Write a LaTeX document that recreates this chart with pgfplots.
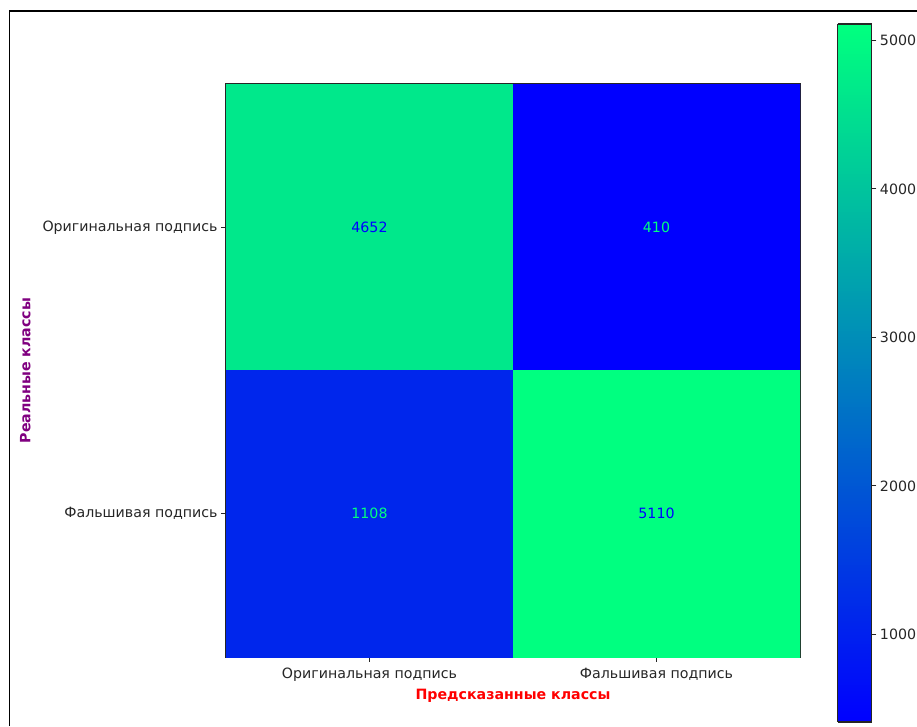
\documentclass[border=0pt]{standalone}
\usepackage{pgfplots}
\pgfplotsset{compat=1.18}
\usepackage{fontspec}
\setmainfont{DejaVu Sans}
\pgfplotsset{
  /pgf/number format/assume math mode=true,
  /pgf/number format/1000 sep={},
  colormap={winter}{rgb=(0,0,1) rgb=(0,1,0.5)},
}
\definecolor{mplpurple}{RGB}{128,0,128}
\definecolor{winterlo}{rgb}{0,0,1}
\definecolor{winterhi}{rgb}{0,1,0.5}
\newcommand{\lblfont}{\fontsize{14.2}{16}\selectfont}

\begin{document}
\begin{tikzpicture}
\useasboundingbox (0pt,0pt) rectangle (917pt,726pt);
% outer frame
\draw[line width=1.8pt,black] (9.5pt,0pt) -- (9.5pt,715pt) -- (917pt,715pt);

\begin{axis}[
  at={(226pt,69pt)}, anchor=south west,
  scale only axis, width=574pt, height=573pt,
  xmin=-0.5, xmax=1.5, ymin=-0.5, ymax=1.5,
  y dir=reverse,
  xtick={0,1}, ytick={0,1},
  xticklabels={Оригинальная подпись, Фальшивая подпись},
  yticklabels={Оригинальная подпись, Фальшивая подпись},
  xtick pos=bottom, ytick pos=left,
  tick align=outside, major tick length=4.9pt,
  tick style={black!85, line width=1.1pt},
  axis line style={black!85, line width=1.1pt},
  ticklabel style={font=\lblfont, text=black!85},
  xticklabel style={yshift=-3pt},
  xlabel={Предсказанные классы},
  ylabel={Реальные классы},
  ylabel shift=5pt,
  xlabel style={font=\lblfont\bfseries, text=red},
  ylabel style={font=\lblfont\bfseries, text=mplpurple},
  colormap name=winter,
  point meta min=410, point meta max=5110,
  colorbar sampled,
  colorbar style={
    samples=240,
    width=34pt, height=698pt,
    at={(parent axis.north east)}, anchor=north west,
    xshift=29pt, yshift=60pt,
    ytick={1000,2000,3000,4000,5000},
    scaled y ticks=false,
    ytick pos=right,
    yticklabel pos=right,
    tick align=outside, major tick length=4.9pt,
    tick style={black!85, line width=1.1pt},
    axis line style={black!85, line width=1.1pt},
    yticklabel style={font=\lblfont, text=black!85},
  },
]
% confusion matrix cells
\addplot[matrix plot*, mesh/cols=2, point meta=explicit] table[meta=c] {
x y c
0 0 4652
1 0 410
0 1 1108
1 1 5110
};
% counts on light cells
\addplot[draw=none, mark=none, point meta=explicit symbolic,
  nodes near coords={\pgfplotspointmeta}, nodes near coords align={center},
  every node near coord/.append style={font=\lblfont, text=winterlo}]
  table[meta=c] {
x y c
0 0 4652
1 1 5110
};
% counts on dark cells
\addplot[draw=none, mark=none, point meta=explicit symbolic,
  nodes near coords={\pgfplotspointmeta}, nodes near coords align={center},
  every node near coord/.append style={font=\lblfont, text=winterhi}]
  table[meta=c] {
x y c
1 0 410
0 1 1108
};
\end{axis}
\end{tikzpicture}
\end{document}
